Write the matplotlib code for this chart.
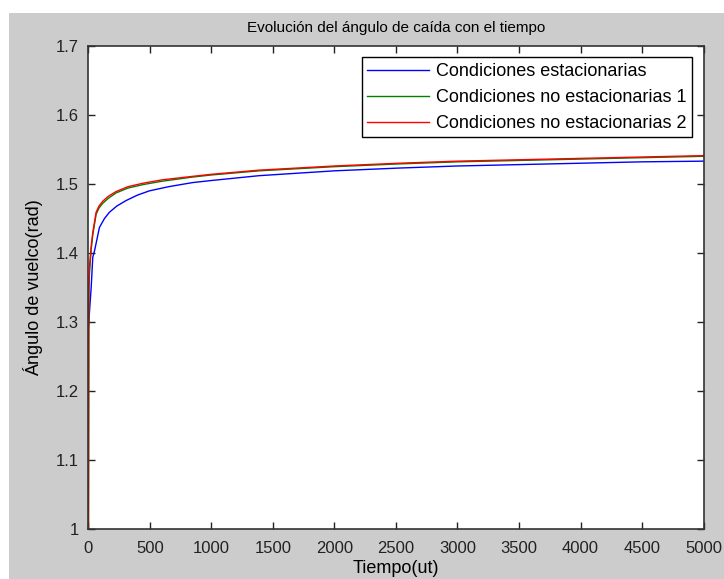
import matplotlib.pyplot as plt
from matplotlib.patches import Rectangle

plt.rcParams['font.family'] = ['Liberation Sans', 'DejaVu Sans']

# Tiempo (ut) de muestreo y ángulo de vuelco (rad) para cada caso
t_est = [0, 10, 22, 35, 49, 89, 130, 170, 230, 306, 400, 495, 650, 847, 1000, 1388, 2000, 2524,
         3000, 3500, 4000, 4500, 5000]
ang_est = [1.293, 1.320, 1.350, 1.394, 1.403, 1.437, 1.450, 1.459, 1.468, 1.476, 1.484, 1.490,
           1.496, 1.502, 1.505, 1.512, 1.519, 1.523, 1.526, 1.528, 1.530, 1.532, 1.533]

t_noest = [0, 3, 8, 15, 22, 35, 62, 85, 116, 160, 224, 320, 441, 600, 847, 1000, 1388, 2000,
           2524, 3000, 3500, 4000, 4500, 5000]
ang_noest1 = [1.000, 1.340, 1.370, 1.388, 1.405, 1.426, 1.456, 1.465, 1.472, 1.479, 1.487, 1.494,
              1.499, 1.504, 1.510, 1.513, 1.519, 1.525, 1.529, 1.532, 1.534, 1.536, 1.538, 1.540]
ang_noest2 = [1.000, 1.350, 1.380, 1.395, 1.410, 1.430, 1.459, 1.468, 1.475, 1.482, 1.489, 1.496,
              1.501, 1.506, 1.511, 1.514, 1.520, 1.526, 1.530, 1.533, 1.535, 1.537, 1.539, 1.541]

fig = plt.figure(figsize=(7.24, 5.79), dpi=100)
fig.patch.set_facecolor('white')
# fondo gris de la ventana
fig.patches.append(Rectangle((9 / 724, 0), 1, 1 - 13 / 579, transform=fig.transFigure,
                             facecolor='#cccccc', edgecolor='none', zorder=-10))

ax = fig.add_axes([0.1222, 0.0855, 0.8495, 0.8355])
ax.plot(t_est, ang_est, color='#0000ff', lw=1.0, label='Condiciones estacionarias')
ax.plot(t_noest, ang_noest1, color='#008000', lw=1.0, label='Condiciones no estacionarias 1')
ax.plot(t_noest, ang_noest2, color='#ff0000', lw=1.0, label='Condiciones no estacionarias 2')

ax.set_xlim(0, 5000)
ax.set_ylim(1, 1.7)
ax.set_xticks(range(0, 5001, 500))
ax.set_yticks([1, 1.1, 1.2, 1.3, 1.4, 1.5, 1.6, 1.7])
ax.set_yticklabels(['1', '1.1', '1.2', '1.3', '1.4', '1.5', '1.6', '1.7'])
ax.tick_params(direction='in', length=5, width=1, top=True, right=True,
               labelsize=12, colors='#222222')
ax.tick_params(axis='x', pad=8)
ax.tick_params(axis='y', pad=7)
for s in ax.spines.values():
    s.set_color('#333333')
    s.set_linewidth(1.2)

ax.set_title('Evolución del ángulo de caída con el tiempo', fontsize=11, pad=10)
ax.set_xlabel('Tiempo(ut)', fontsize=13, labelpad=3)
ax.set_ylabel('Ángulo de vuelco(rad)', fontsize=13, labelpad=9)

leg = ax.legend(loc='upper right', fontsize=13, frameon=True, fancybox=False,
                edgecolor='black', framealpha=1, handlelength=3.4, handletextpad=0.4,
                borderpad=0.3, labelspacing=0.5, borderaxespad=0.65)
leg.get_frame().set_linewidth(1.0)

fig.savefig('out.png', dpi=100)
